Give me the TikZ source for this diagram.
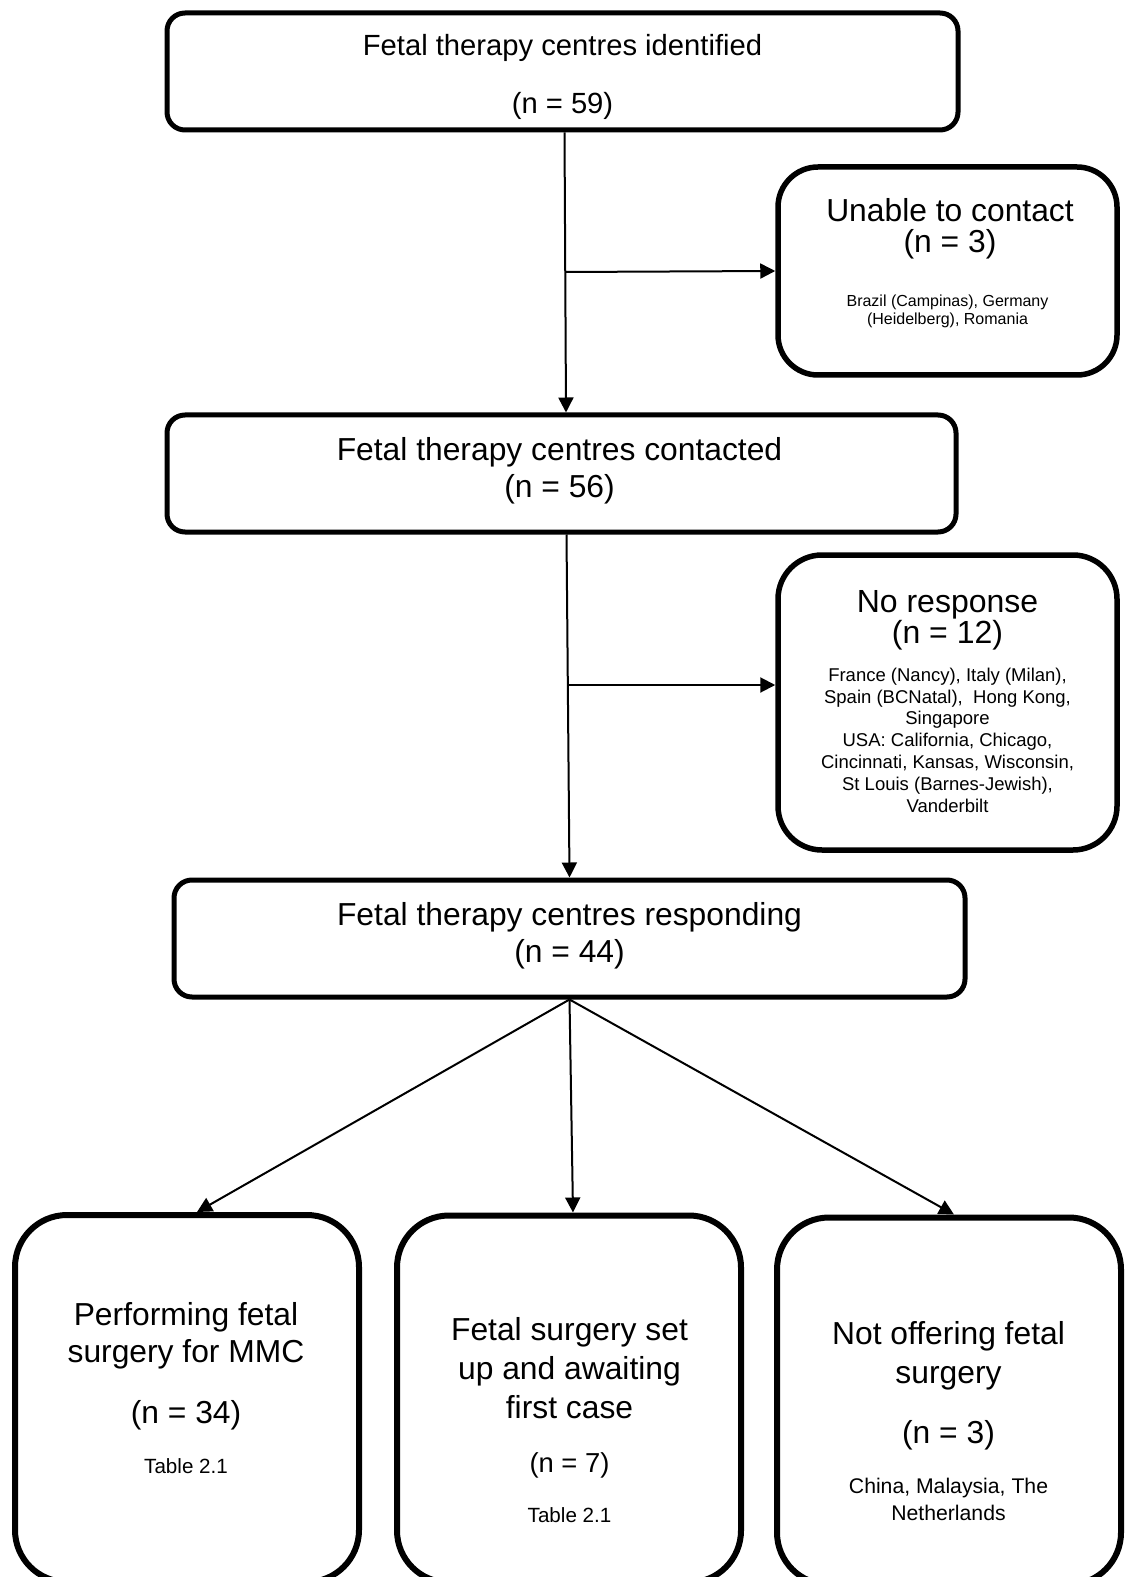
\documentclass[tikz,border=0pt]{standalone}
\usepackage{fontspec}
\setmainfont{Liberation Sans}
\usetikzlibrary{arrows.meta}
\usetikzlibrary{positioning}

\tikzset{
  stagebox/.style={draw, line width=2.5pt, rounded corners=9pt, inner sep=0pt, minimum height=58.5pt},
  sidebox/.style={draw, line width=2.75pt, inner sep=0pt, minimum width=169.5pt},
  leafbox/.style={draw, line width=3pt, rounded corners=26pt, inner sep=0pt, minimum width=172pt, minimum height=183.5pt},
  arr/.style={line width=1pt, -{Triangle[length=7.5pt,width=7.5pt]}},
  boxtext/.style={align=center, anchor=base, inner sep=0pt}
}

\begin{document}
\begin{tikzpicture}[x=0.5pt,y=-0.5pt]
\useasboundingbox (0,0) rectangle (1126,1577);

% main column
\node[stagebox, minimum width=395.5pt] (ident) at (562.5,71.5) {};
\node[stagebox, minimum width=394.5pt] (contacted) at (561.5,473.5) {};
\node[stagebox, minimum width=395.5pt] (responding) at (569.5,938.5) {};

% (base = baseline of the last line)
\node[boxtext, font=\fontsize{14.6}{29}\selectfont] (identtext) at (562.5,114) {Fetal therapy centres identified\\(n = 59)};
\node[boxtext, font=\fontsize{15.9}{18.5}\selectfont] (contactedtext) at (559.5,497) {Fetal therapy centres contacted\\(n = 56)};
\node[boxtext, font=\fontsize{15.9}{18.5}\selectfont] (respondingtext) at (569.5,962) {Fetal therapy centres responding\\(n = 44)};

% excluded centres
\node[sidebox, rounded corners=20pt, minimum height=104pt] (unable) at (947.5,271) {};
\node[sidebox, rounded corners=22pt, minimum height=147.5pt] (noresp) at (947.5,702.5) {};

\node[boxtext, font=\fontsize{15.9}{15.5}\selectfont] (unabletext) at (950,253) {Unable to contact\\(n = 3)};
\node[boxtext, font=\fontsize{8}{9}\selectfont] (unablelist) at (947.5,325) {Brazil (Campinas), Germany\\(Heidelberg), Romania};
\node[boxtext, font=\fontsize{16}{15.5}\selectfont] (noresptext) at (947.5,643) {No response\\(n = 12)};
\node[boxtext, font=\fontsize{9.25}{10.9}\selectfont] (noresplist) at (947.5,812) {France (Nancy), Italy (Milan),\\Spain (BCNatal),\ \ Hong Kong,\\Singapore\\USA: California, Chicago,\\Cincinnati, Kansas, Wisconsin,\\St Louis (Barnes-Jewish),\\Vanderbilt};

% outcome boxes
\node[leafbox] (perf) at (187,1398.5) {};
\node[leafbox] (awaiting) at (569,1399) {};
\node[leafbox] (notoff) at (949,1401) {};

\node[boxtext, font=\fontsize{15.9}{18.5}\selectfont] (perftext) at (186,1423) {Performing fetal\\surgery for MMC\\[12pt](n = 34)};
\node[boxtext, font=\fontsize{10.3}{12}\selectfont] (perftable) at (186,1473) {Table 2.1};
\node[boxtext, font=\fontsize{15.9}{19.5}\selectfont] (awaitingtext) at (569.5,1418) {Fetal surgery set\\up and awaiting\\first case};
\node[boxtext, font=\fontsize{13.7}{16}\selectfont] (awaitingn) at (569.5,1472) {(n = 7)};
\node[boxtext, font=\fontsize{10.3}{12}\selectfont] (awaitingtable) at (569.5,1522) {Table 2.1};
\node[boxtext, font=\fontsize{15.9}{19.5}\selectfont] (notofftext) at (948.5,1443) {Not offering fetal\\surgery\\[10.5pt](n = 3)};
\node[boxtext, font=\fontsize{10.6}{13.5}\selectfont] (notofflist) at (948.5,1520) {China, Malaysia, The\\Netherlands};

% connectors
\coordinate (fork1) at (565.5,272);
\coordinate (fork2) at (567.5,685);
\draw[arr] ([xshift=1pt]ident.south) -- ([xshift=2.25pt]contacted.north);
\draw[arr] (fork1) -- (unable.west);
\draw[arr] ([xshift=2.5pt]contacted.south) -- (responding.north);
\draw[arr] (fork2) -- (fork2 -| noresp.west);
\draw[arr] (responding.south) -- ([xshift=5pt]perf.north);
\draw[arr] (responding.south) -- ([xshift=2pt]awaiting.north);
\draw[arr] (responding.south) -- ([xshift=2.5pt]notoff.north);

\end{tikzpicture}
\end{document}
